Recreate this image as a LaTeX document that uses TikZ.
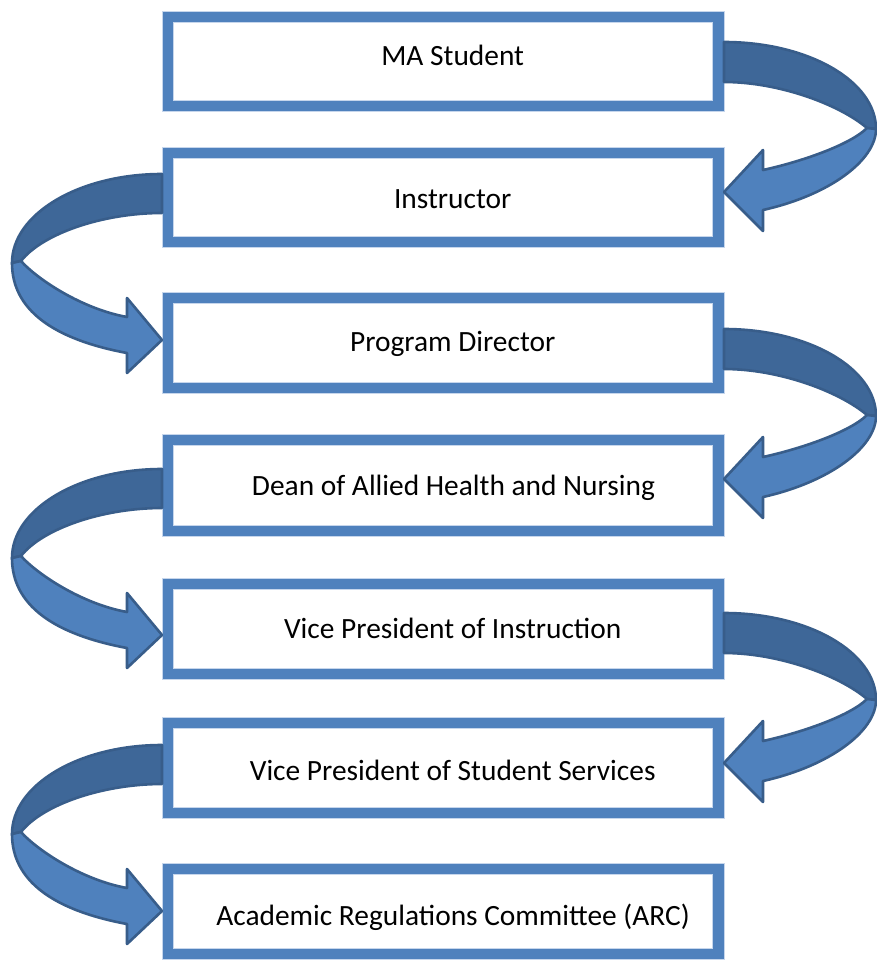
\documentclass[tikz,border=0pt]{standalone}
\usepackage{fontspec}
\setmainfont{Carlito}
\definecolor{boxblue}{HTML}{4F81BD}
\definecolor{glow}{HTML}{C6D6EC}
\definecolor{bandback}{HTML}{3E6798}
\definecolor{bandfront}{HTML}{4F81BD}
\definecolor{bandedge}{HTML}{385D8A}
\newcommand\RArrowShape{%
  \filldraw[bandback] (0,0) .. controls (84,0) and (152,39) .. (152,87) -- (143,86)
     .. controls (116,63) and (56,40) .. (0,40) -- cycle;
  \filldraw[bandfront] (143,86) .. controls (126,103) and (76,120) .. (39,128) -- (39,108)
     -- (0,150) -- (39,189) -- (39,168) .. controls (106,153) and (152,118) .. (152,87) -- cycle;}
\newcommand\LArrowShape{%
  \filldraw[bandback] (0,0) .. controls (83,0) and (150,40) .. (150,89) -- (141,87)
     .. controls (120,60) and (60,39) .. (0,39) -- cycle;
  \filldraw[bandfront] (141,87) .. controls (125,105) and (80,135) .. (35,143) -- (35,124)
     -- (0,166) -- (35,199) -- (35,179) .. controls (110,165) and (150,135) .. (150,89) -- cycle;}
\begin{document}
\begin{tikzpicture}[x=1pt,y=-1pt,
  box/.style={rectangle, draw=glow, line width=0.9pt, double=boxblue, double distance=10.5pt,
    minimum width=550.5pt, minimum height=#1, inner sep=0pt, outer sep=0pt},
  txt/.style={anchor=base, inner sep=0pt, font=\fontsize{29.4}{35}\selectfont},
  bandback/.style={fill=bandback, draw=bandedge, line width=2.6pt, line join=round},
  bandfront/.style={fill=bandfront, draw=bandedge, line width=2.6pt, line join=round}]
\useasboundingbox (0,0) rectangle (876,963);
\fill[white] (0,0) rectangle (876,963);
\node[box=89pt] (b1) at (443.25,61.5) {};
\node[box=89pt] (b2) at (443.25,197.5) {};
\node[box=90pt] (b3) at (443.25,343) {};
\node[box=91pt] (b4) at (443.25,485.5) {};
\node[box=90pt] (b5) at (443.25,629) {};
\node[box=90pt] (b6) at (443.25,768) {};
\node[box=85pt] (b7) at (443.25,911.5) {};
\node[txt] (t1) at (452.7,65.5) {MA Student};
\node[txt] (t2) at (452.7,208.5) {Instructor};
\node[txt] (t3) at (452.7,351.5) {Program Director};
\node[txt] (t4) at (453.5,495.5) {Dean of Allied Health and Nursing};
\node[txt] (t5) at (452.7,638.5) {Vice President of Instruction};
\node[txt] (t6) at (452.7,780.5) {Vice President of Student Services};
\node[txt] (t7) at (453,925.5) {Academic Regulations Committee (ARC)};
% right-hand curved arrows
\begin{scope}[shift={(b1.east)}, shift={(5.5,-19.5)}] \RArrowShape \end{scope}
\begin{scope}[shift={(b3.east)}, shift={(5.5,-14)}] \RArrowShape \end{scope}
\begin{scope}[shift={(b5.east)}, shift={(5.5,-16)}] \RArrowShape \end{scope}
% left-hand curved arrows
\begin{scope}[shift={(b2.west)}, shift={(-6,-23.5)}, xscale=-1] \LArrowShape \end{scope}
\begin{scope}[shift={(b4.west)}, shift={(-6,-16.5)}, xscale=-1] \LArrowShape \end{scope}
\begin{scope}[shift={(b6.west)}, shift={(-6,-23)}, xscale=-1] \LArrowShape \end{scope}
\end{tikzpicture}
\end{document}
